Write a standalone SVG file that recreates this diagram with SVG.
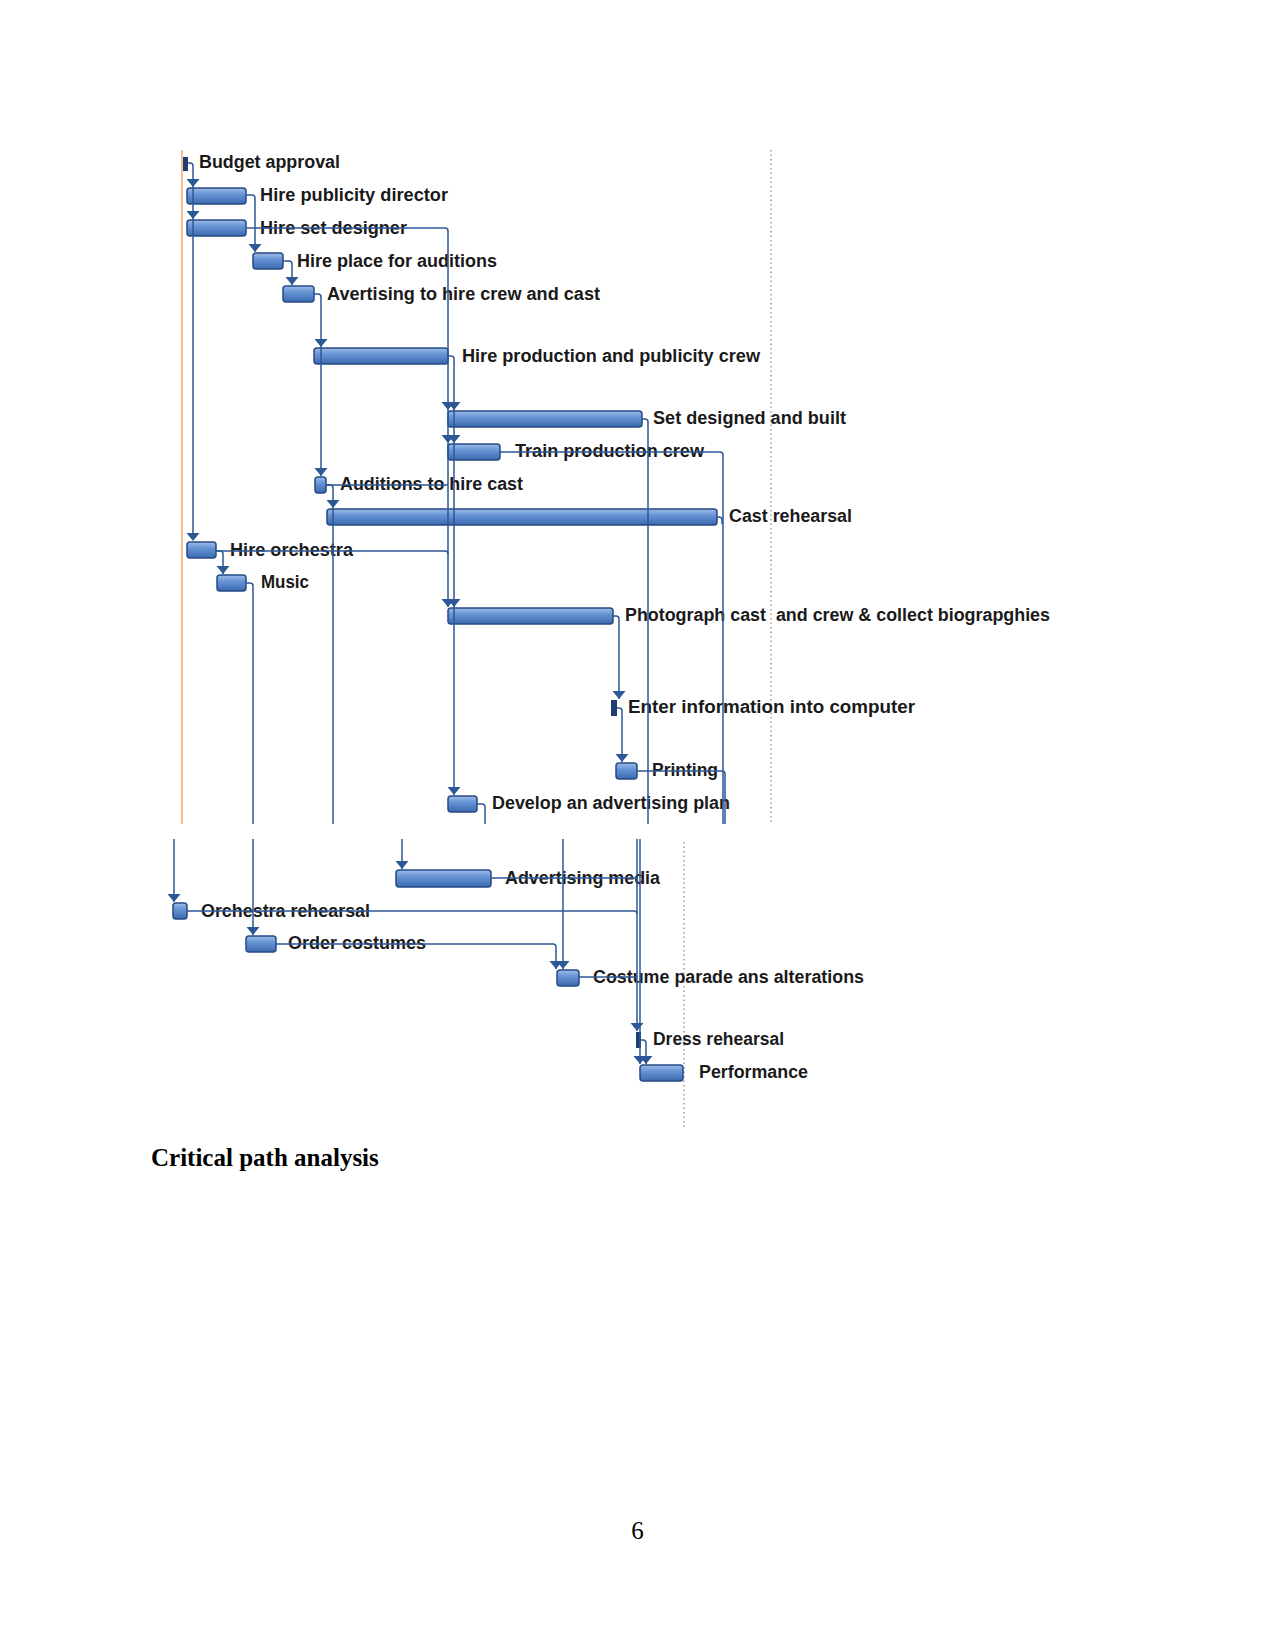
<svg xmlns="http://www.w3.org/2000/svg" xmlns:xlink="http://www.w3.org/1999/xlink" width="1275" height="1651" viewBox="0 0 1275 1651">
<defs>
<linearGradient id="bg" x1="0" y1="0" x2="0" y2="1">
<stop offset="0" stop-color="#9dbde8"/>
<stop offset="0.4" stop-color="#6693d4"/>
<stop offset="1" stop-color="#3a6aae"/>
</linearGradient>
<path id="ah" d="M-6.5,-8 L6.5,-8 L0,0 Z"/>
</defs>
<style>
.bar{fill:url(#bg);stroke:#264a84;stroke-width:1.5}
.ms{fill:#1f3d73}
.lbl{font-family:"Liberation Sans",Arial,sans-serif;font-weight:bold;font-size:17.5px;fill:#1a1a1a}
.con{fill:none;stroke:#2c5896;stroke-width:1.5}
.ahd{fill:#2c5896}
.dot{stroke:#9a9a9a;stroke-width:1.5;stroke-dasharray:1.5 3;fill:none}
.page{font-family:"Liberation Serif","Times New Roman",serif;font-size:25px;fill:#000}
</style>
<rect width="1275" height="1651" fill="#fff"/>

<g id="guides">
<line x1="182" y1="150" x2="182" y2="824" stroke="#f2a766" stroke-width="1.5"/>
<line class="dot" x1="771" y1="150" x2="771" y2="824"/>
<line class="dot" x1="684" y1="842" x2="684" y2="1127"/>
</g>

<g id="n-budget"><rect class="ms" x="183" y="157" width="5" height="14"/><text class="lbl" x="199" y="168" textLength="141" lengthAdjust="spacingAndGlyphs">Budget approval</text></g>
<g id="n-hire-publicity"><rect class="bar" x="187" y="188" width="59" height="16" rx="3"/><text class="lbl" x="260" y="201" textLength="188" lengthAdjust="spacingAndGlyphs">Hire publicity director</text></g>
<g id="n-hire-set"><rect class="bar" x="187" y="220" width="59" height="16" rx="3"/><text class="lbl" x="260" y="234" textLength="147" lengthAdjust="spacingAndGlyphs">Hire set designer</text></g>
<g id="n-hire-place"><rect class="bar" x="253" y="253" width="30" height="16" rx="3"/><text class="lbl" x="297" y="267" textLength="200" lengthAdjust="spacingAndGlyphs">Hire place for auditions</text></g>
<g id="n-avertising"><rect class="bar" x="283" y="286" width="31" height="16" rx="3"/><text class="lbl" x="327" y="300" textLength="273" lengthAdjust="spacingAndGlyphs">Avertising to hire crew and cast</text></g>
<g id="n-hire-production"><rect class="bar" x="314" y="348" width="134" height="16" rx="3"/><text class="lbl" x="462" y="362" textLength="298" lengthAdjust="spacingAndGlyphs">Hire production and publicity crew</text></g>
<g id="n-set-designed"><rect class="bar" x="448" y="411" width="194" height="16" rx="3"/><text class="lbl" x="653" y="424" textLength="193" lengthAdjust="spacingAndGlyphs">Set designed and built</text></g>
<g id="n-train"><rect class="bar" x="448" y="444" width="52" height="16" rx="3"/><text class="lbl" x="515" y="457" textLength="189" lengthAdjust="spacingAndGlyphs">Train production crew</text></g>
<g id="n-auditions"><rect class="bar" x="315" y="477" width="11" height="16" rx="3"/><text class="lbl" x="340" y="490" textLength="183" lengthAdjust="spacingAndGlyphs">Auditions to hire cast</text></g>
<g id="n-cast-rehearsal"><rect class="bar" x="327" y="509" width="390" height="16" rx="3"/><text class="lbl" x="729" y="522" textLength="123" lengthAdjust="spacingAndGlyphs">Cast rehearsal</text></g>
<g id="n-hire-orchestra"><rect class="bar" x="187" y="542" width="29" height="16" rx="3"/><text class="lbl" x="230" y="556" textLength="123" lengthAdjust="spacingAndGlyphs">Hire orchestra</text></g>
<g id="n-music"><rect class="bar" x="217" y="575" width="29" height="16" rx="3"/><text class="lbl" x="261" y="588" textLength="48" lengthAdjust="spacingAndGlyphs">Music</text></g>
<g id="n-photograph"><rect class="bar" x="448" y="608" width="165" height="16" rx="3"/><text class="lbl" x="625" y="621" textLength="425" lengthAdjust="spacingAndGlyphs" xml:space="preserve" style="white-space:pre">Photograph cast  and crew &amp; collect biograpghies</text></g>
<g id="n-enter-info"><rect class="ms" x="611" y="700" width="6" height="16"/><text class="lbl" x="628" y="713" textLength="287" lengthAdjust="spacingAndGlyphs">Enter information into computer</text></g>
<g id="n-printing"><rect class="bar" x="616" y="763" width="21" height="16" rx="3"/><text class="lbl" x="652" y="776" textLength="66" lengthAdjust="spacingAndGlyphs">Printing</text></g>
<g id="n-develop"><rect class="bar" x="448" y="796" width="29" height="16" rx="3"/><text class="lbl" x="492" y="809" textLength="238" lengthAdjust="spacingAndGlyphs">Develop an advertising plan</text></g>

<g id="n-advertising-media"><rect class="bar" x="396" y="870" width="95" height="17" rx="3"/><text class="lbl" x="505" y="884" textLength="155" lengthAdjust="spacingAndGlyphs">Advertising media</text></g>
<g id="n-orchestra-rehearsal"><rect class="bar" x="173" y="903" width="14" height="16" rx="3"/><text class="lbl" x="201" y="917" textLength="169" lengthAdjust="spacingAndGlyphs">Orchestra rehearsal</text></g>
<g id="n-order-costumes"><rect class="bar" x="246" y="936" width="30" height="16" rx="3"/><text class="lbl" x="288" y="949" textLength="138" lengthAdjust="spacingAndGlyphs">Order costumes</text></g>
<g id="n-costume-parade"><rect class="bar" x="557" y="970" width="22" height="16" rx="3"/><text class="lbl" x="593" y="983" textLength="271" lengthAdjust="spacingAndGlyphs">Costume parade ans alterations</text></g>
<g id="n-dress"><rect class="ms" x="636" y="1032" width="5" height="16"/><text class="lbl" x="653" y="1045" textLength="131" lengthAdjust="spacingAndGlyphs">Dress rehearsal</text></g>
<g id="n-performance"><rect class="bar" x="640" y="1065" width="43" height="16" rx="3"/><text class="lbl" x="699" y="1078" textLength="109" lengthAdjust="spacingAndGlyphs">Performance</text></g>

<g id="connectors">
<path class="con" d="M188,163 H190 Q193,163 193,166 V540"/>
<path class="con" d="M246,195 H252 Q255,195 255,198 V252"/>
<path class="con" d="M283,261 H289 Q292,261 292,264 V285"/>
<path class="con" d="M314,294 H318 Q321,294 321,297 V476"/>
<path class="con" d="M246,228 H445 Q448,228 448,231 V607"/>
<path class="con" d="M448,356 H451 Q454,356 454,359 V795"/>
<path class="con" d="M326,485 H330 Q333,485 333,488 V824"/>
<path class="con" d="M326,485 H448"/>
<path class="con" d="M642,419 H645 Q648,419 648,422 V824"/>
<path class="con" d="M500,452 H720 Q723,452 723,455 V824"/>
<path class="con" d="M717,517 H719 Q722,517 722,520 V524"/>
<path class="con" d="M216,551 H445 Q448,551 448,554"/>
<path class="con" d="M216,551 H220 Q223,551 223,554 V574"/>
<path class="con" d="M246,583 H250 Q253,583 253,586 V824"/>
<path class="con" d="M613,616 H616 Q619,616 619,619 V699"/>
<path class="con" d="M617,708 H619 Q622,708 622,711 V762"/>
<path class="con" d="M637,771 H722 Q725,771 725,774 V824"/>
<path class="con" d="M477,804 H482 Q485,804 485,807 V824"/>

<path class="con" d="M174,839 V902"/>
<path class="con" d="M253,839 V935"/>
<path class="con" d="M402,839 V869"/>
<path class="con" d="M563,839 V969"/>
<path class="con" d="M276,944 H553 Q556,944 556,947 V969"/>
<path class="con" d="M187,911 H634 Q637,911 637,914"/>
<path class="con" d="M491,878 H637"/>
<path class="con" d="M579,977 H637"/>
<path class="con" d="M637,839 V1031"/>
<path class="con" d="M640,839 V1064"/>
<path class="con" d="M641,1040 H643 Q646,1040 646,1043 V1064"/>

<g class="ahd">
<use xlink:href="#ah" x="193" y="187"/>
<use xlink:href="#ah" x="193" y="219"/>
<use xlink:href="#ah" x="193" y="541"/>
<use xlink:href="#ah" x="255" y="252"/>
<use xlink:href="#ah" x="292" y="285"/>
<use xlink:href="#ah" x="321" y="347"/>
<use xlink:href="#ah" x="321" y="476"/>
<use xlink:href="#ah" x="448" y="410"/>
<use xlink:href="#ah" x="454" y="410"/>
<use xlink:href="#ah" x="448" y="443"/>
<use xlink:href="#ah" x="454" y="443"/>
<use xlink:href="#ah" x="333" y="508"/>
<use xlink:href="#ah" x="223" y="574"/>
<use xlink:href="#ah" x="448" y="607"/>
<use xlink:href="#ah" x="454" y="607"/>
<use xlink:href="#ah" x="619" y="699"/>
<use xlink:href="#ah" x="622" y="762"/>
<use xlink:href="#ah" x="454" y="795"/>
<use xlink:href="#ah" x="174" y="902"/>
<use xlink:href="#ah" x="253" y="935"/>
<use xlink:href="#ah" x="402" y="869"/>
<use xlink:href="#ah" x="556" y="969"/>
<use xlink:href="#ah" x="563" y="969"/>
<use xlink:href="#ah" x="637" y="1031"/>
<use xlink:href="#ah" x="640" y="1064"/>
<use xlink:href="#ah" x="646" y="1064"/>
</g>
</g>

<text class="page" x="151" y="1166" font-weight="bold">Critical path analysis</text>
<text class="page" x="637.5" y="1539" text-anchor="middle">6</text>
</svg>
